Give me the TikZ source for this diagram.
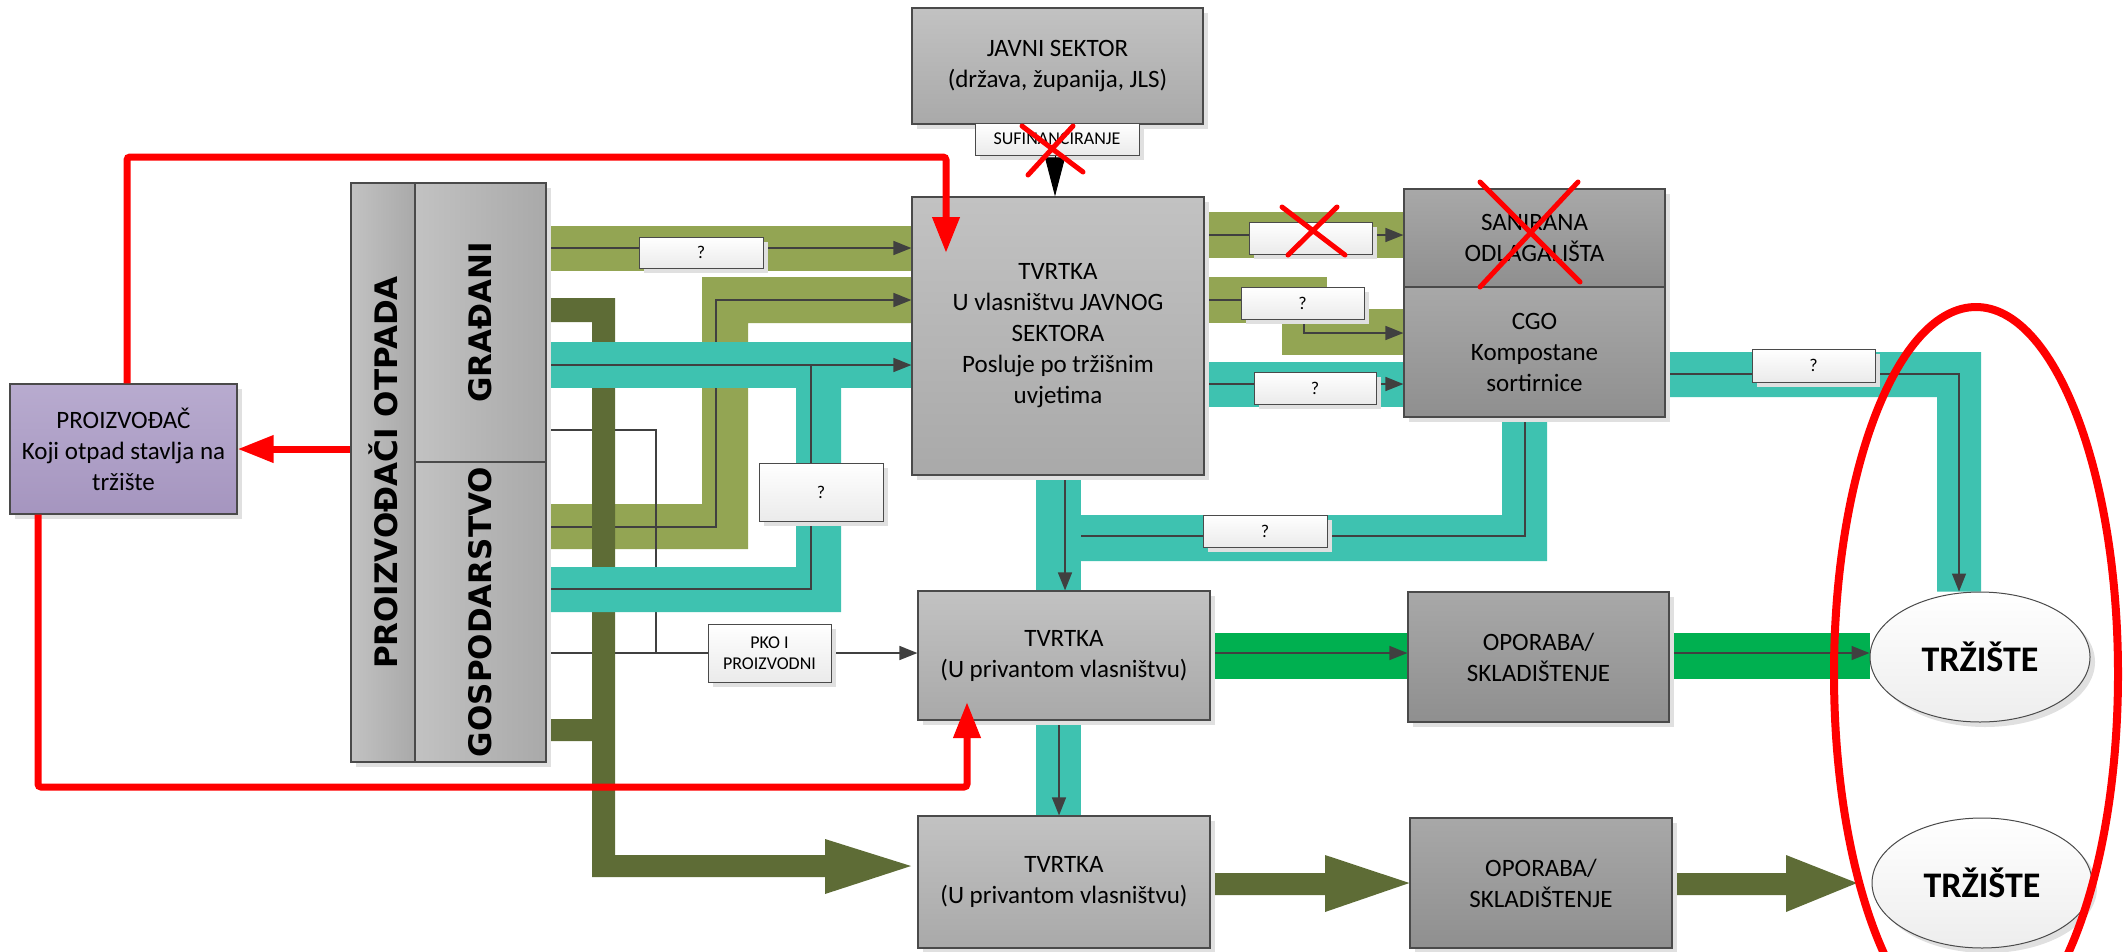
\documentclass[tikz,border=0pt]{standalone}
\usepackage{fontspec}
\usepackage{graphicx}
\setmainfont{Carlito}
\newfontfamily\stupacfont{DejaVu Sans}
\usetikzlibrary{arrows.meta,shadows,shapes.geometric,backgrounds}

\definecolor{maslina}{HTML}{93A553}
\definecolor{tamnamaslina}{HTML}{5E6C36}
\definecolor{tirkiz}{HTML}{3EC2B0}
\definecolor{zelena}{HTML}{00B050}
\definecolor{ljub1}{HTML}{B8ABCF}
\definecolor{ljub2}{HTML}{A595BF}
\definecolor{siva1}{HTML}{C2C2C2}
\definecolor{siva2}{HTML}{A9A9A9}
\definecolor{tsiva1}{HTML}{A8A8A8}
\definecolor{tsiva2}{HTML}{8F8F8F}
\definecolor{rub}{HTML}{4A4A4A}

\tikzset{
  okvir/.style={draw=rub, line width=1.2pt, inner sep=0pt, align=center,
    font=\fontsize{25}{31}\selectfont},
  sjena/.style={drop shadow={shadow xshift=5pt,shadow yshift=-5pt,fill=black!12,opacity=1}},
  svijetli/.style={okvir, top color=siva1, bottom color=siva2},
  tamni/.style={okvir, top color=tsiva1, bottom color=tsiva2},
  ljubicasti/.style={okvir, top color=ljub1, bottom color=ljub2},
  stupac/.style={okvir, left color=siva1, right color=siva2,
    font=\stupacfont\bfseries\fontsize{31}{36}\selectfont},
  oznaka/.style={okvir, line width=1pt, top color=white, bottom color=black!8,
    font=\fontsize{18}{21}\selectfont},
  trziste/.style={okvir, ellipse, line width=1pt, top color=white, bottom color=black!7,
    font=\bfseries\fontsize{36}{40}\selectfont},
  tanka/.style={draw=black!75, line width=1.5pt},
  vrh/.style={-{Triangle[length=18pt,width=14pt]}},
  crvena/.style={draw=red, line width=7pt, rounded corners=3pt},
  crvenivrh/.style={-{Triangle[length=36pt,width=26pt]}},
  krizic/.style={draw=red, line width=5pt, line cap=round},
}

\begin{document}
\begin{tikzpicture}[x=1pt,y=-1pt]
\useasboundingbox (0,0) rectangle (2123,951);

% okviri
\node[svijetli,sjena,minimum width=291,minimum height=116] (javni) at (1057.5,66) {JAVNI SEKTOR\\(država, županija, JLS)};
\node[svijetli,sjena,minimum width=292,minimum height=278] (tvrtkaJ) at (1058,336) {TVRTKA\\U vlasništvu JAVNOG\\SEKTORA\\Posluje po tržišnim\\uvjetima};
\node[tamni,sjena,minimum width=261,minimum height=98] (saniran) at (1534.5,238) {SANIRANA\\ODLAGALIŠTA};
\node[tamni,sjena,minimum width=261,minimum height=130] (cgo) at (1534.5,352) {CGO\\Kompostane\\sortirnice};
\node[ljubicasti,sjena,minimum width=227,minimum height=130] (proizv) at (123.5,449) {PROIZVOĐAČ\\Koji otpad stavlja na\\tržište};
\node[stupac,sjena,minimum width=64,minimum height=579] (otpada) at (383,472.5) {\rotatebox{90}{PROIZVOĐAČI OTPADA}};
\node[stupac,sjena,minimum width=131,minimum height=279] (gradj) at (480.5,322.5) {\rotatebox{90}{GRAĐANI}};
\node[stupac,sjena,minimum width=131,minimum height=300] (gosp) at (480.5,612) {\rotatebox{90}{GOSPODARSTVO}};
\node[svijetli,sjena,minimum width=292,minimum height=129] (tvrtkaP1) at (1064,655.5) {TVRTKA\\(U privantom vlasništvu)};
\node[svijetli,sjena,minimum width=292,minimum height=132] (tvrtkaP2) at (1064,882) {TVRTKA\\(U privantom vlasništvu)};
\node[tamni,sjena,minimum width=261,minimum height=130] (oporaba1) at (1538.5,657) {OPORABA/\\SKLADIŠTENJE};
\node[tamni,sjena,minimum width=262,minimum height=130] (oporaba2) at (1541,883) {OPORABA/\\SKLADIŠTENJE};
\node[trziste,sjena,minimum width=220,minimum height=130] (trziste1) at (1980,657) {TRŽIŠTE};
\node[trziste,sjena,minimum width=220,minimum height=130] (trziste2) at (1982,883) {TRŽIŠTE};

% oznake na tokovima
\node[oznaka,sjena,minimum width=164,minimum height=32] (sufin) at (1057,139) {SUFINANCIRANJE};
\node[oznaka,sjena,minimum width=124,minimum height=31] (upit1) at (701,252.5) {?};
\node[oznaka,sjena,minimum width=124,minimum height=58] (upit2) at (821,492) {?};
\node[oznaka,sjena,minimum width=123,minimum height=58] (pko) at (769.5,653) {PKO I\\PROIZVODNI};
\node[oznaka,sjena,minimum width=123,minimum height=32] (upit3) at (1310.5,238) {};
\node[oznaka,sjena,minimum width=123,minimum height=32] (upit4) at (1302.5,303) {?};
\node[oznaka,sjena,minimum width=122,minimum height=32] (upit5) at (1315,388) {?};
\node[oznaka,sjena,minimum width=123,minimum height=33] (upit6) at (1813.5,365.5) {?};
\node[oznaka,sjena,minimum width=124,minimum height=32] (upit7) at (1265,531) {?};

\coordinate (ulazJ) at (946,253);
\coordinate (ulazP1) at (967,702);

\begin{scope}[on background layer]
% gradjani i gospodarstvo -> javna tvrtka
\fill[maslina] (gradj.east |- 0,226) rectangle (tvrtkaJ.west |- 0,271);
\draw[tanka,vrh] (gradj.east |- 0,248) -- (tvrtkaJ.west |- 0,248);
\fill[maslina] (gosp.east |- 0,504) -| (702,277) -- (tvrtkaJ.west |- 0,277) -- (tvrtkaJ.west |- 0,323) -| (748,549) -- (gosp.east |- 0,549) -- cycle;
\draw[tanka,vrh] (gosp.east |- 0,527) -| (716,300) -- (tvrtkaJ.west |- 0,300);
\draw[tanka] (gradj.east |- 0,430) -| (656,653);
\draw[tanka,vrh] (gosp.east |- 0,653) -- (tvrtkaP1.west |- 0,653);
\fill[tamnamaslina] (gradj.east |- 0,298) -| (615,855) -- (825,855) -- (825,839) -- (911,866) -- (825,894) -- (825,877) -- (592,877) |- (gosp.east |- 0,741) -- (gosp.east |- 0,719) -| (592,322) -- (gradj.east |- 0,322) -- cycle;
\fill[tirkiz] (gradj.east |- 0,342) rectangle (tvrtkaJ.west |- 0,388);
\fill[tirkiz] (gosp.east |- 0,567) -| (796,388) -- (841,388) |- (gosp.east |- 0,612) -- cycle;
\draw[tanka,vrh] (gradj.east |- 0,365) -- (tvrtkaJ.west |- 0,365);
\draw[tanka] (gosp.east |- 0,589) -| (811,365);
% javna tvrtka -> desno
\fill[maslina] (tvrtkaJ.east |- 0,212) rectangle (saniran.west |- 0,258);
\draw[tanka,vrh] (tvrtkaJ.east |- 0,235) -- (saniran.west |- 0,235);
\fill[maslina] (tvrtkaJ.east |- 0,277) rectangle (1327,323);
\fill[maslina] (1282,309) rectangle (cgo.west |- 0,355);
\draw[tanka,vrh] (tvrtkaJ.east |- 0,300) -| (1304,333) -- (cgo.west |- 0,333);
\fill[tirkiz] (tvrtkaJ.east |- 0,362) rectangle (cgo.west |- 0,407);
\draw[tanka,vrh] (tvrtkaJ.east |- 0,384) -- (cgo.west |- 0,384);
\fill[tirkiz] (cgo.east |- 0,352) -| (trziste1.north -| 1981,0) -- (trziste1.north -| 1937,0) |- (cgo.east |- 0,397) -- cycle;
\draw[tanka,vrh] (cgo.east |- 0,374) -| (trziste1.north -| 1959,0);
\fill[tirkiz] (cgo.south -| 1502,0) -- (cgo.south -| 1547,0) |- (1036,561) -- (1036,515) -| (cgo.south -| 1502,0) -- cycle;
\draw[tanka] (cgo.south -| 1525,0) |- (1065,536);
\fill[tirkiz] (tvrtkaJ.south -| 1036,0) rectangle (tvrtkaP1.north -| 1081,0);
\draw[tanka,vrh] (tvrtkaJ.south -| 1065,0) -- (tvrtkaP1.north -| 1065,0);
\fill[tirkiz] (tvrtkaP1.south -| 1036,0) rectangle (tvrtkaP2.north -| 1081,0);
\draw[tanka,vrh] (tvrtkaP1.south -| 1059,0) -- (tvrtkaP2.north -| 1059,0);
% privatne tvrtke -> trziste
\fill[zelena] (tvrtkaP1.east |- 0,633) rectangle (oporaba1.west |- 0,679);
\draw[tanka,vrh] (tvrtkaP1.east |- 0,653) -- (oporaba1.west |- 0,653);
\fill[zelena] (oporaba1.east |- 0,633) rectangle (trziste1.west |- 0,679);
\draw[tanka,vrh] (oporaba1.east |- 0,653) -- (trziste1.west |- 0,653);
\fill[tamnamaslina] (tvrtkaP2.east |- 0,873) -- (1325,873) -- (1325,855) -- (oporaba2.west |- 0,883) -- (1325,912) -- (1325,895) -- (tvrtkaP2.east |- 0,895) -- cycle;
\fill[tamnamaslina] (oporaba2.east |- 0,873) -- (1786,873) -- (1786,855) -- (1857,883) -- (1786,912) -- (1786,895) -- (oporaba2.east |- 0,895) -- cycle;
\end{scope}

% sufinanciranje
\draw[line width=1pt,-{Triangle[length=39pt,width=20pt]}] (sufin.south -| 1055,0) -- (tvrtkaJ.north -| 1055,0);

% crvene veze
\draw[crvena,crvenivrh] (proizv.north -| 127,0) |- (ulazJ |- 0,157) -- (ulazJ);
\draw[crvena,crvenivrh] (otpada.west |- proizv.east) -- (proizv.east);
\draw[crvena,crvenivrh] (proizv.south -| 38,0) |- (ulazP1 |- 0,787) -- (ulazP1);

% precrtano
\draw[krizic] (1022,126) -- (1083,172) (1073,126) -- (1028,175);
\draw[krizic] (1282,207) -- (1345,255) (1337,207) -- (1288,255);
\draw[krizic] (1480,182) -- (1580,282) (1578,182) -- (1480,287);

\draw[red,line width=8pt] (1976,674) ellipse [x radius=142pt, y radius=367pt];
\end{tikzpicture}
\end{document}
